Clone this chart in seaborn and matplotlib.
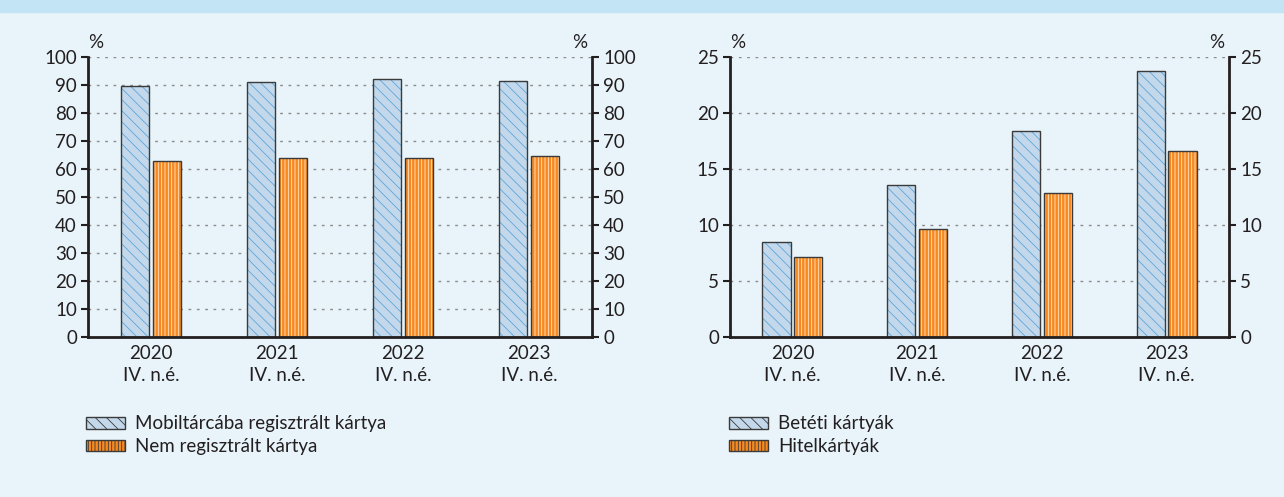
import matplotlib
matplotlib.use("Agg")
import matplotlib.pyplot as plt
import matplotlib.patches as mpatches
import pandas as pd
import seaborn as sns

periods = ["2020\nIV. n.é.", "2021\nIV. n.é.", "2022\nIV. n.é.", "2023\nIV. n.é."]

wallet_series = ["Mobiltárcába regisztrált kártya", "Nem regisztrált kártya"]
wallet_registered = [89.6, 91.2, 92.1, 91.4]
wallet_not_registered = [63.0, 64.0, 64.1, 64.6]

card_series = ["Betéti kártyák", "Hitelkártyák"]
debit_cards = [8.5, 13.6, 18.4, 23.75]
credit_cards = [7.1, 9.6, 12.9, 16.6]

BG = "#E8F4FA"
BAND = "#C2E4F4"
BLUE_FILL = "#C4D8EB"
BLUE_HATCH = "#5DA5DA"
ORANGE_FILL = "#F7891E"
EDGE = "#3A3A3A"
GRID = "#8C8C8C"
TEXT = "#231F20"
FS = 13.5

LOOKS = [(BLUE_FILL, BLUE_HATCH, "\\\\\\"), (ORANGE_FILL, "#FFE8D0", "|||||")]


def make_frame(series, first, second):
    return pd.DataFrame({
        "period": periods * 2,
        "series": [series[0]] * len(periods) + [series[1]] * len(periods),
        "value": first + second,
    })


def apply_look(patch, fill, hatch_color, hatch):
    patch.set_facecolor(fill)
    patch.set_hatch(hatch)
    patch.set_linewidth(1.0)
    patch.set_edgecolor(EDGE)
    if hasattr(patch, "set_hatchcolor"):
        patch.set_hatchcolor(hatch_color)


def style_bars(ax):
    for container, look in zip(ax.containers, LOOKS):
        for bar in container:
            apply_look(bar, *look)
            if not hasattr(bar, "set_hatchcolor"):
                bar.set_edgecolor(look[1])
                bar.set_linewidth(0)
                ax.add_patch(mpatches.Rectangle(
                    (bar.get_x(), bar.get_y()), bar.get_width(), bar.get_height(),
                    fill=False, edgecolor=EDGE, linewidth=1.0, zorder=bar.get_zorder() + 0.1))


def draw_panel(fig, ax, df, series, ymax, step, legend_x):
    sns.barplot(data=df, x="period", y="value", hue="series", ax=ax,
                width=0.51, gap=0.11, legend=False, saturation=1)
    style_bars(ax)
    ax.set_facecolor(BG)
    ax.set_xlim(-0.5, len(periods) - 0.5)
    ax.set_ylim(0, ymax)
    ticks = list(range(0, ymax + 1, step))
    ax.set_yticks(ticks)
    ax.tick_params(axis="y", left=True, right=True, labelleft=True, labelright=True,
                   direction="out", length=5, width=1.5, labelsize=FS, colors=TEXT, pad=3)
    ax.set_xticks(range(len(periods)))
    ax.set_xticklabels(periods, linespacing=1.3)
    ax.tick_params(axis="x", which="major", length=0, labelsize=FS, colors=TEXT, pad=6)
    ax.set_xticks([i - 0.5 for i in range(len(periods) + 1)], minor=True)
    ax.tick_params(axis="x", which="minor", length=5, width=1.5, direction="out", color=TEXT)
    ax.set_axisbelow(True)
    ax.yaxis.grid(True, linestyle=(0, (2, 4)), color=GRID, linewidth=1)
    ax.xaxis.grid(False)
    ax.spines["top"].set_visible(False)
    for side in ["left", "right", "bottom"]:
        ax.spines[side].set_visible(True)
        ax.spines[side].set_linewidth(2)
        ax.spines[side].set_color(TEXT)
    ax.set_xlabel("")
    ax.set_ylabel("")
    ax.text(0.016, 1.02, "%", transform=ax.transAxes, ha="center", va="bottom",
            fontsize=FS, color=TEXT)
    ax.text(0.976, 1.02, "%", transform=ax.transAxes, ha="center", va="bottom",
            fontsize=FS, color=TEXT)
    leg = ax.legend(handles=list(ax.containers), labels=series, loc="upper left",
                    bbox_to_anchor=(legend_x, 0.164), bbox_transform=fig.transFigure,
                    frameon=False, fontsize=FS, handlelength=2.1, handleheight=0.55,
                    handletextpad=0.5, labelspacing=0.3, borderpad=0, borderaxespad=0,
                    labelcolor=TEXT)
    for handle, look in zip(leg.legend_handles, LOOKS):
        apply_look(handle, *look)


sns.set_style("white")
plt.rcParams["font.family"] = ["Lato", "DejaVu Sans"]
plt.rcParams["hatch.linewidth"] = 0.6

fig = plt.figure(figsize=(12.84, 4.97), dpi=100, facecolor=BG)
fig.patches.append(mpatches.Rectangle((0, 1 - 12 / 497), 1, 12 / 497, transform=fig.transFigure,
                                      color=BAND, zorder=0))

ax1 = fig.add_axes([88 / 1284, 1 - 337 / 497, 504 / 1284, 280 / 497])
ax2 = fig.add_axes([730 / 1284, 1 - 337 / 497, 499 / 1284, 280 / 497])

draw_panel(fig, ax1, make_frame(wallet_series, wallet_registered, wallet_not_registered),
           wallet_series, 100, 10, 86 / 1284)
draw_panel(fig, ax2, make_frame(card_series, debit_cards, credit_cards),
           card_series, 25, 5, 729 / 1284)

fig.savefig("out.png", dpi=100, facecolor=BG)
